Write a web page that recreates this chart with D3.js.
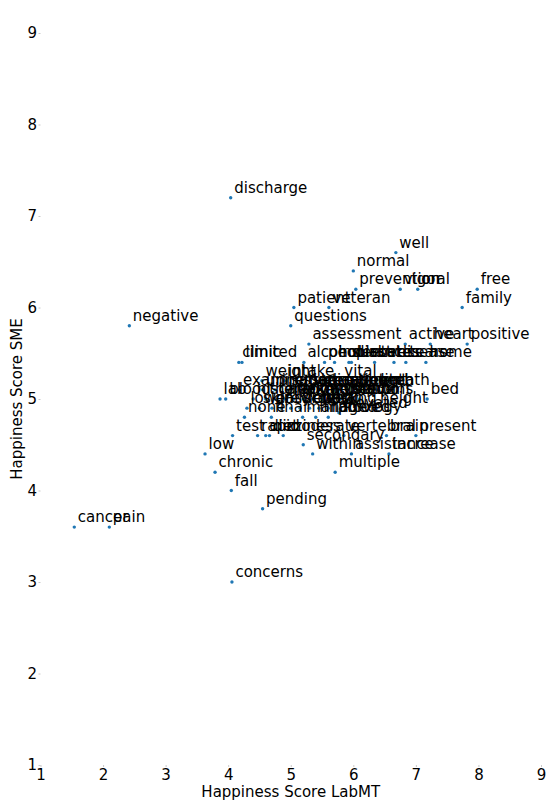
<!DOCTYPE html>
<html>
<head>
<meta charset="utf-8">
<script src="https://cdn.jsdelivr.net/npm/d3@7"></script>
<style>
  html, body { margin: 0; padding: 0; background: #fff; }
  svg { display: block; font-family: "DejaVu Sans", sans-serif; }
</style>
</head>
<body>
<svg id="chart" width="548" height="801"></svg>
<script>
// Word happiness: LabMT score vs SME score
const words = [
  "discharge","well","normal","prevention","vigor","oral","free","family",
  "patient","veteran","negative","questions","assessment","active","heart","positive",
  "clinic","limited","alcohol","people","insurance","dental","diabetes","stress","disease","tears","home",
  "weight","intake","vital",
  "examination","urine","pressure","sugar","medication","sleep","recovery","treatment","appetite","strength","speech","breath",
  "lab","blood","history","therapy","care","health","follow","exercise","status","mental","symptoms","control","support","level","bed",
  "lower","skin","daily","review","surgery","screening","chest","back","plan","elevated","height",
  "none","final","managed","improved","radiology",
  "test","rapid","diet","dizziness","moderate","secondary","vertebral","brain","present",
  "low","within","assistance","increase","chronic","multiple","fall","pending","cancer","pain","concerns"
];
const labmt = [
  4.04,6.68,6.00,6.04,6.75,7.03,7.98,7.74,
  5.05,5.61,2.42,5.00,5.29,6.83,7.23,7.82,
  4.17,4.22,5.21,5.54,5.70,5.93,5.97,6.34,6.65,6.84,7.16,
  4.54,4.90,5.80,
  4.18,4.55,4.75,4.95,5.15,5.30,5.45,5.60,5.75,5.90,6.06,6.38,
  3.87,3.96,4.40,4.60,4.75,4.90,5.05,5.20,5.35,5.50,5.65,5.80,5.95,6.10,7.18,
  4.30,4.50,4.70,4.85,5.00,5.15,5.30,5.45,5.60,5.77,6.37,
  4.26,4.69,5.19,5.40,5.60,
  4.07,4.47,4.60,4.66,4.88,5.20,5.85,6.53,7.00,
  3.63,5.35,5.97,6.57,3.79,5.71,4.05,4.55,1.54,2.10,4.06
];
const sme = [
  7.2,6.6,6.4,6.2,6.2,6.2,6.2,6.0,
  6.0,6.0,5.8,5.8,5.6,5.6,5.6,5.6,
  5.4,5.4,5.4,5.4,5.4,5.4,5.4,5.4,5.4,5.4,5.4,
  5.2,5.2,5.2,
  5.1,5.1,5.1,5.1,5.1,5.1,5.1,5.1,5.1,5.1,5.1,5.1,
  5.0,5.0,5.0,5.0,5.0,5.0,5.0,5.0,5.0,5.0,5.0,5.0,5.0,5.0,5.0,
  4.9,4.9,4.9,4.9,4.9,4.9,4.9,4.9,4.9,4.85,4.9,
  4.8,4.8,4.8,4.8,4.8,
  4.6,4.6,4.6,4.6,4.6,4.5,4.6,4.6,4.6,
  4.4,4.4,4.4,4.4,4.2,4.2,4.0,3.8,3.6,3.6,3.0
];
const xTicks = [1,2,3,4,5,6,7,8,9];
const yTicks = [1,2,3,4,5,6,7,8,9];

const svg = d3.select("#chart");
const x = d3.scaleLinear().domain([1, 9]).range([40.5, 541]);
const y = d3.scaleLinear().domain([1, 9]).range([765, 33]);

// axes without spines, very short light ticks
const xAxis = svg.append("g")
  .attr("transform", `translate(0,${y(1)})`)
  .call(d3.axisBottom(x).tickValues(xTicks).tickFormat(d3.format("d")).tickSize(2).tickPadding(2.5));
const yAxis = svg.append("g")
  .attr("transform", `translate(${x(1)},0)`)
  .call(d3.axisLeft(y).tickValues(yTicks).tickFormat(d3.format("d")).tickSize(2).tickPadding(1.5));
[xAxis, yAxis].forEach(g => {
  g.select(".domain").remove();
  g.selectAll(".tick line").attr("stroke", "#bbb").attr("stroke-width", 0.8);
  g.selectAll(".tick text").attr("fill", "#000").style("font-size", "15px")
    .style("font-family", "DejaVu Sans, sans-serif");
});

const pts = words.map((w, i) => ({ w, lx: labmt[i], sy: sme[i] }));

svg.append("g").selectAll("circle").data(pts).join("circle")
  .attr("cx", d => x(d.lx))
  .attr("cy", d => y(d.sy))
  .attr("r", 1.7)
  .attr("fill", "#1f77b4");

svg.append("g").selectAll("text").data(pts).join("text")
  .attr("x", d => x(d.lx) + 3.5)
  .attr("y", d => y(d.sy) - 5)
  .attr("fill", "#000")
  .style("font-size", "15px")
  .text(d => d.w);

svg.append("text")
  .attr("x", x(5)).attr("y", 797)
  .attr("text-anchor", "middle")
  .attr("fill", "#000")
  .style("font-size", "15px")
  .text("Happiness Score LabMT");

svg.append("text")
  .attr("transform", `translate(22,${y(5)}) rotate(-90)`)
  .attr("text-anchor", "middle")
  .attr("fill", "#000")
  .style("font-size", "15px")
  .text("Happiness Score SME");
</script>
</body>
</html>
